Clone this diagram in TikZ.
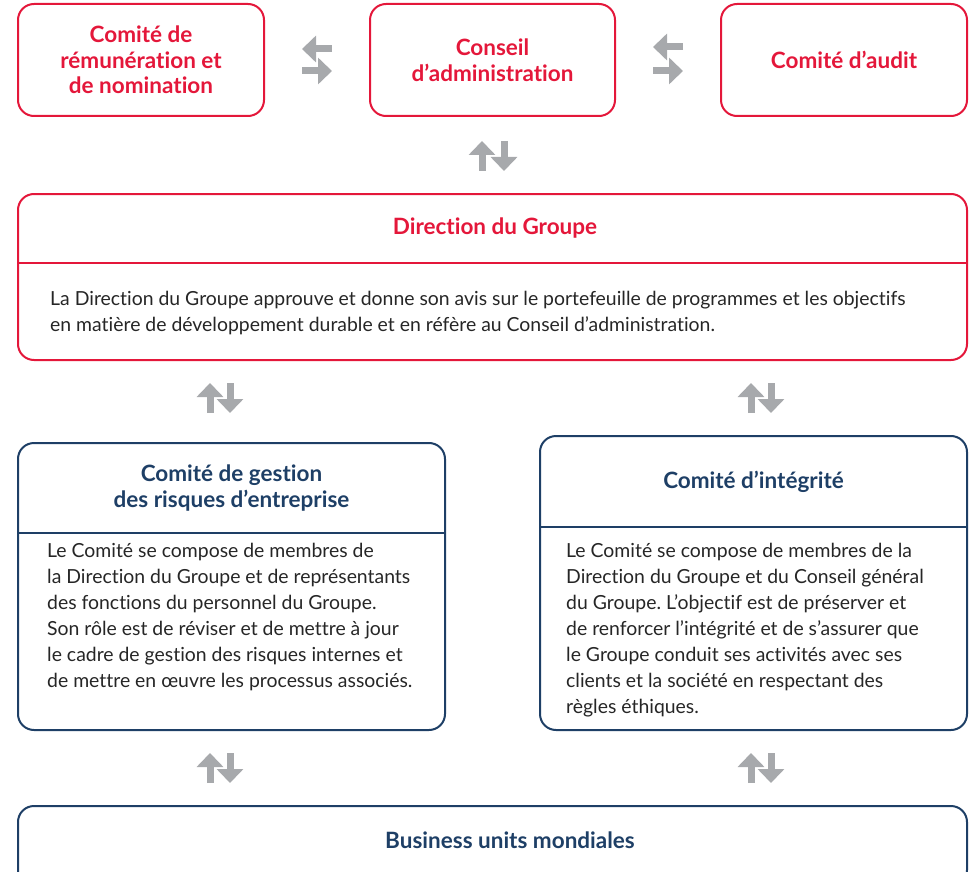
\documentclass[tikz,border=0pt]{standalone}
\usepackage{fontspec}
\setmainfont{Lato}[Ligatures={NoCommon}]
\usetikzlibrary{arrows.meta, positioning}
\definecolor{brandred}{HTML}{E4173A}
\definecolor{brandnavy}{HTML}{1E3F66}
\definecolor{flowgray}{HTML}{A7A9AC}
\frenchspacing

\begin{document}
\begin{tikzpicture}[x=1pt, y=-1pt,
    box/.style={draw, line width=2pt, rounded corners=16pt, inner sep=0pt, align=center},
    redbox/.style={box, draw=brandred, text=brandred},
    bluebox/.style={box, draw=brandnavy},
    title/.style={font=\fontsize{22.5}{25.5}\selectfont\bfseries, align=center, inner sep=0pt},
    body/.style={font=\fontsize{19.4}{26}\selectfont, align=left, inner sep=0pt, text=black!85, anchor=north west},
    arrow/.style={-{Triangle[length=14pt, width=26pt]}, line width=7pt, draw=flowgray}]

    \useasboundingbox (0,0) rectangle (972,872);
    \clip (0,0) rectangle (972,872);

    % top row
    \node[redbox, title, minimum width=246pt, minimum height=112pt] (remun) at (141,60) {Comité de\\rémunération et\\de nomination};
    \node[redbox, title, minimum width=245pt, minimum height=112pt] (conseil) at (492.5,60) {Conseil\\d’administration};
    \node[redbox, title, minimum width=246pt, minimum height=112pt] (audit) at (844,60) {Comité d’audit};

    \draw[arrow, shorten <=37pt, shorten >=37pt] ([yshift=11pt]conseil.west) -- ([yshift=11pt]remun.east);
    \draw[arrow, shorten <=37pt, shorten >=37pt] ([yshift=-11pt]remun.east) -- ([yshift=-11pt]conseil.west);
    \draw[arrow, shorten <=37pt, shorten >=37pt] ([yshift=13pt]audit.west) -- ([yshift=13pt]conseil.east);
    \draw[arrow, shorten <=37pt, shorten >=37pt] ([yshift=-11pt]conseil.east) -- ([yshift=-11pt]audit.west);

    % direction
    \node[redbox, minimum width=949pt, minimum height=166pt] (dir) at (492.5,277) {};
    \node[title, text=brandred] (dirtitle) at (495,228) {Direction du Groupe};
    \draw[brandred, line width=2pt] (dir.west |- 0,263) -- (dir.east |- 0,263);
    \node[body] (dirtext) at (50,291) {La Direction du Groupe approuve et donne son avis sur le portefeuille de programmes et les objectifs\\en matière de développement durable et en réfère au Conseil d’administration.};

    \draw[arrow, shorten <=22pt, shorten >=24pt] ([xshift=-10.5pt]dir.north) -- ([xshift=-10.5pt]conseil.south);
    \draw[arrow, shorten <=24pt, shorten >=22pt] ([xshift=11.5pt]conseil.south) -- ([xshift=11.5pt]dir.north);

    % committees
    \node[bluebox, minimum width=427pt, minimum height=287pt] (risk) at (231.5,586.5) {};
    \node[title, text=brandnavy] (risktitle) at (231.5,488) {Comité de gestion\\des risques d’entreprise};
    \draw[brandnavy, line width=2pt] (risk.west |- 0,533) -- (risk.east |- 0,533);
    \node[body] (risktext) at (47,543) {Le Comité se compose de membres de\\la Direction du Groupe et de représentants\\des fonctions du personnel du Groupe.\\Son rôle est de réviser et de mettre à jour\\le cadre de gestion des risques internes et\\de mettre en œuvre les processus associés.};

    \node[bluebox, minimum width=427pt, minimum height=294pt] (integ) at (753.5,583) {};
    \node[title, text=brandnavy] (integtitle) at (753.5,482) {Comité d’intégrité};
    \draw[brandnavy, line width=2pt] (integ.west |- 0,527) -- (integ.east |- 0,527);
    \node[body] (integtext) at (566,543) {Le Comité se compose de membres de la\\Direction du Groupe et du Conseil général\\du Groupe. L’objectif est de préserver et\\de renforcer l’intégrité et de s’assurer que\\le Groupe conduit ses activités avec ses\\clients et la société en respectant des\\règles éthiques.};

    \draw[arrow, shorten <=29pt, shorten >=22pt] ([xshift=-21.5pt]risk.north) -- ([xshift=-21.5pt]risk.north |- dir.south);
    \draw[arrow, shorten <=22pt, shorten >=29pt] ([xshift=-1.5pt]risk.north |- dir.south) -- ([xshift=-1.5pt]risk.north);
    \draw[arrow, shorten <=22pt, shorten >=22pt] ([xshift=-2.5pt]integ.north) -- ([xshift=-2.5pt]integ.north |- dir.south);
    \draw[arrow, shorten <=22pt, shorten >=22pt] ([xshift=17.5pt]integ.north |- dir.south) -- ([xshift=17.5pt]integ.north);

    % business units
    \node[bluebox, minimum width=949pt, minimum height=80pt] (units) at (492.5,846) {};
    \node[title, text=brandnavy] (unitstitle) at (510,840) {Business units mondiales};

    \draw[arrow, shorten <=22pt, shorten >=22pt] ([xshift=-21.5pt]units.north -| risk) -- ([xshift=-21.5pt]risk.south);
    \draw[arrow, shorten <=22pt, shorten >=22pt] ([xshift=-1.5pt]risk.south) -- ([xshift=-1.5pt]units.north -| risk);
    \draw[arrow, shorten <=22pt, shorten >=22pt] ([xshift=-2.5pt]units.north -| integ) -- ([xshift=-2.5pt]integ.south);
    \draw[arrow, shorten <=22pt, shorten >=22pt] ([xshift=17.5pt]integ.south) -- ([xshift=17.5pt]units.north -| integ);
\end{tikzpicture}
\end{document}
